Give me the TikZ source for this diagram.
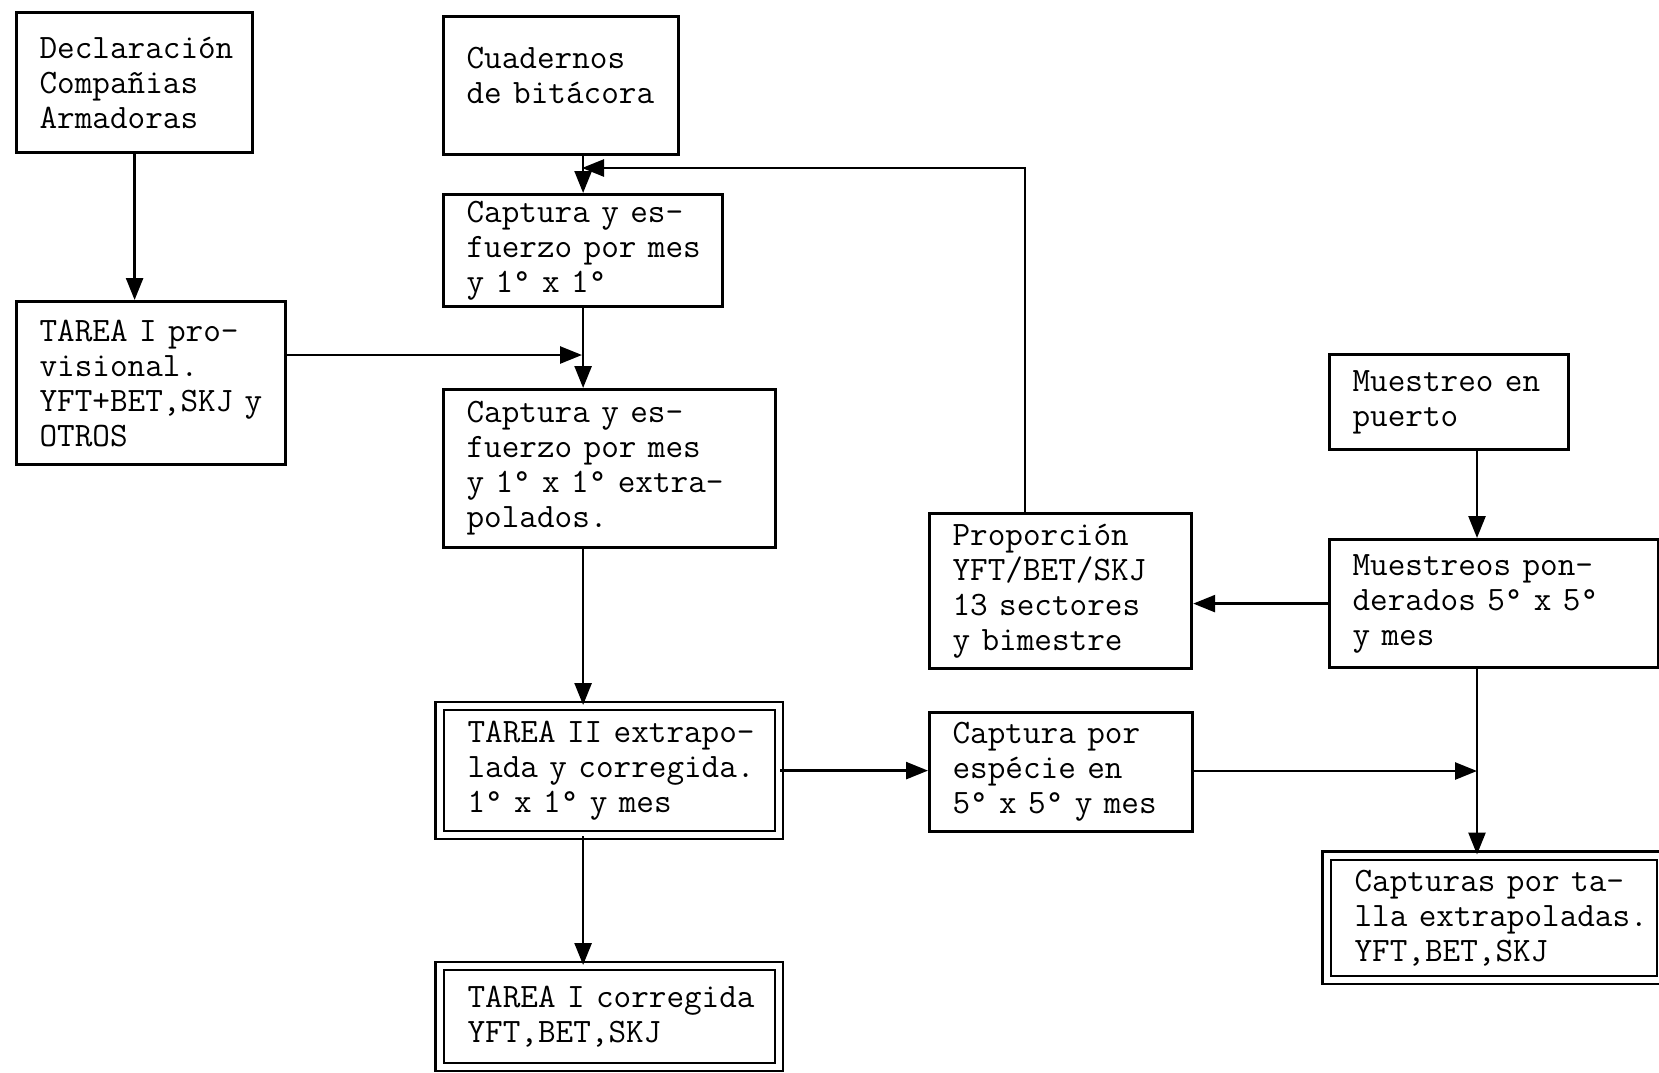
\documentclass[tikz,border=0pt]{standalone}
\usepackage{fontspec}
\usetikzlibrary{arrows.meta}
\tikzstyle{box} = [rectangle, draw=black, line width=1.6pt, anchor=north west, align=left, inner xsep=11.5pt, inner ysep=0pt, font=\ttfamily\fontsize{17.1pt}{17.5pt}\selectfont, execute at begin node={\hyphenpenalty=10000 \exhyphenpenalty=10000 \hfuzz=50pt}]
\tikzstyle{dbox} = [box, line width=1.1pt, double, double distance=3pt, inner xsep=14pt]
\tikzstyle{arrow} = [line width=1.3pt, -{Triangle[length=11pt, width=8.5pt]}]

\begin{document}
\begin{tikzpicture}[x=0.5pt, y=-0.5pt]
    \useasboundingbox (0,0) rectangle (1659,1072);

        % Nodes
        \node (decl) [box, text width=95pt, minimum height=70pt] at (15,11) {Declaración\\Compañias\\Armadoras};
        \node (cuad) [box, text width=94.5pt, minimum height=69pt] at (442,15) {Cuadernos\\de~bitácora\\[-7pt]~};
        \node (cap1) [box, text width=116.5pt, minimum height=56pt] at (442,193) {Captura~y~es-\\fuerzo~por~mes\\y~1°~x~1°};
        \node (tip) [box, text width=111.5pt, minimum height=81.5pt] at (15,300) {TAREA~I~pro-\\visional.\\YFT+BET,SKJ~y\\OTROS};
        \node (cap2) [box, text width=143pt, minimum height=79pt] at (442,388) {Captura~y~es-\\fuerzo~por~mes\\y~1°~x~1°~extra-\\polados.};
        \node (t2) [dbox, text width=141.75pt, minimum height=64.5pt] at (438.5,705) {TAREA~II~extrapo-\\lada~y~corregida.\\1°~x~1°~y~mes};
        \node (t1c) [dbox, text width=141.75pt, minimum height=50.5pt] at (438.5,965) {TAREA~I~corregida\\YFT,BET,SKJ};
        \node (prop) [box, text width=108pt, minimum height=77.5pt] at (928,512) {Proporción\\YFT/BET/SKJ\\13~sectores\\y~bimestre};
        \node (esp) [box, text width=108.5pt, minimum height=59.5pt] at (928,711) {Captura~por\\espécie~en\\5°~x~5°~y~mes};
        \node (puerto) [box, text width=96.5pt, minimum height=47.5pt] at (1328,353) {Muestreo~en\\puerto};
        \node (muest) [box, text width=141.5pt, minimum height=64pt] at (1328,538) {Muestreos~pon-\\derados~5°~x~5°\\y~mes};
        \node (talla) [dbox, text width=139.25pt, minimum height=62.25pt] at (1325.5,854.5) {Capturas~por~ta-\\lla~extrapoladas.\\YFT,BET,SKJ};

        % Junctions
        \coordinate (fb) at (582,168);
        \coordinate (j1) at (582,355);
        \coordinate (j2) at (1477,771);

        % Arrows
        \draw [arrow] (decl.south) -- (decl.south |- tip.north);
        \draw [arrow] (tip.east |- j1) -- (j1);
        \draw [arrow] (cap1.north |- cuad.south) -- (cap1.north);
        \draw [arrow] (cap1.south) -- (cap1.south |- cap2.north);
        \draw [arrow] (cap1.south |- cap2.south) -- (cap1.south |- t2.north);
        \draw [arrow] (cap1.south |- t2.south) -- (cap1.south |- t1c.north);
        \draw [arrow] (t2.east) -- (t2.east -| esp.west);
        \draw [arrow] (esp.east |- j2) -- (j2);
        \draw [arrow] (puerto.south -| j2) -- (muest.north -| j2);
        \draw [arrow] (muest.south -| j2) -- (talla.north -| j2);
        \draw [arrow] (muest.west) -- (muest.west -| prop.east);
        \draw [arrow] ([xshift=48.5pt]prop.north west) |- (fb);

        \end{tikzpicture}
\end{document}
